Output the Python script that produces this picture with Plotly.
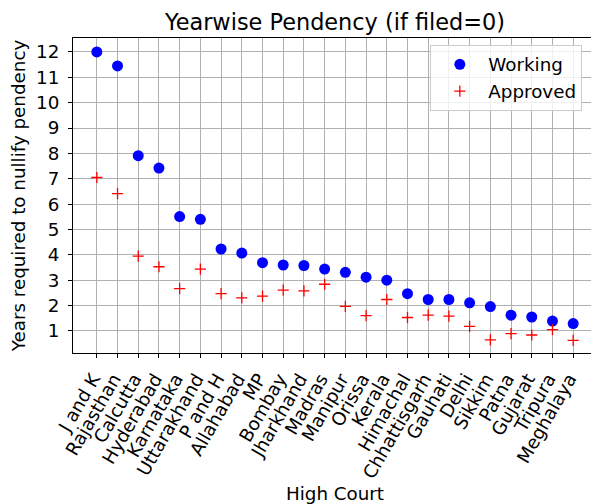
import plotly.graph_objects as go

courts = ["J and K", "Rajasthan", "Calcutta", "Hyderabad", "Karnataka", "Uttarakhand",
          "P and H", "Allahabad", "MP", "Bombay", "Jharkhand", "Madras", "Manipur",
          "Orissa", "Kerala", "Himachal", "Chhattisgarh", "Gauhati", "Delhi", "Sikkim",
          "Patna", "Gujarat", "Tripura", "Meghalaya"]
working = [12.0, 11.45, 7.91, 7.42, 5.51, 5.40, 4.23, 4.07, 3.69, 3.60, 3.58, 3.44,
           3.31, 3.12, 3.00, 2.47, 2.24, 2.24, 2.11, 1.96, 1.62, 1.55, 1.39, 1.29]
approved = [7.05, 6.41, 3.95, 3.53, 2.67, 3.44, 2.47, 2.30, 2.37, 2.61, 2.58, 2.84,
            1.97, 1.60, 2.24, 1.53, 1.62, 1.58, 1.18, 0.65, 0.89, 0.84, 1.05, 0.63]
yticks = list(range(1, 13))

FONT = "DejaVu Sans"
FS = 18.3
# the page body has an 8px default margin, so the figure is sized/offset to compensate
W, H = 591, 496
fig = go.Figure()
fig.add_trace(go.Scatter(x=courts, y=working, mode="markers", name="Working",
                         marker=dict(symbol="circle", size=11, color="blue")))
fig.add_trace(go.Scatter(x=courts, y=approved, mode="markers", name="Approved",
                         marker=dict(symbol="cross-thin", size=8, color="red",
                                     line=dict(color="red", width=1.3))))

axis_common = dict(showline=True, linecolor="black", linewidth=1, mirror=True,
                   showgrid=True, gridcolor="#b0b0b0", gridwidth=1, automargin=False,
                   ticks="outside", ticklen=4, tickcolor="black", zeroline=False,
                   tickfont=dict(family=FONT, size=FS, color="black"))
fig.update_layout(
    width=W, height=H,
    margin=dict(l=65, r=2, t=30, b=151),
    paper_bgcolor="white", plot_bgcolor="white",
    font=dict(family=FONT, size=FS, color="black"),
    title=dict(text="Yearwise Pendency (if filed=0)", x=(335 - 8) / W, xanchor="center",
               y=1 - (22 - 8) / H, yanchor="middle", font=dict(family=FONT, size=22.4)),
    xaxis=dict(**axis_common, type="category", range=[-1.15, 24.15], tickangle=-60,
               tickmode="linear", tick0=0, dtick=1, ticklabelstandoff=3, ticklabelshift=-4,
               title=dict(text="High Court", font=dict(family=FONT, size=FS), standoff=18)),
    yaxis=dict(**axis_common, range=[0.13, 12.55], tickvals=yticks, ticklabelstandoff=5,
               title=dict(text="Years required to nullify pendency", font=dict(family=FONT, size=FS), standoff=6)),
    legend=dict(x=0.972, y=0.978, xanchor="right", yanchor="top", itemwidth=47,
                entrywidth=98, entrywidthmode="pixels",
                bgcolor="rgba(255,255,255,0.8)", bordercolor="#cccccc", borderwidth=1,
                font=dict(family=FONT, size=FS)),
    showlegend=True,
)
fig.write_html("out.html")
